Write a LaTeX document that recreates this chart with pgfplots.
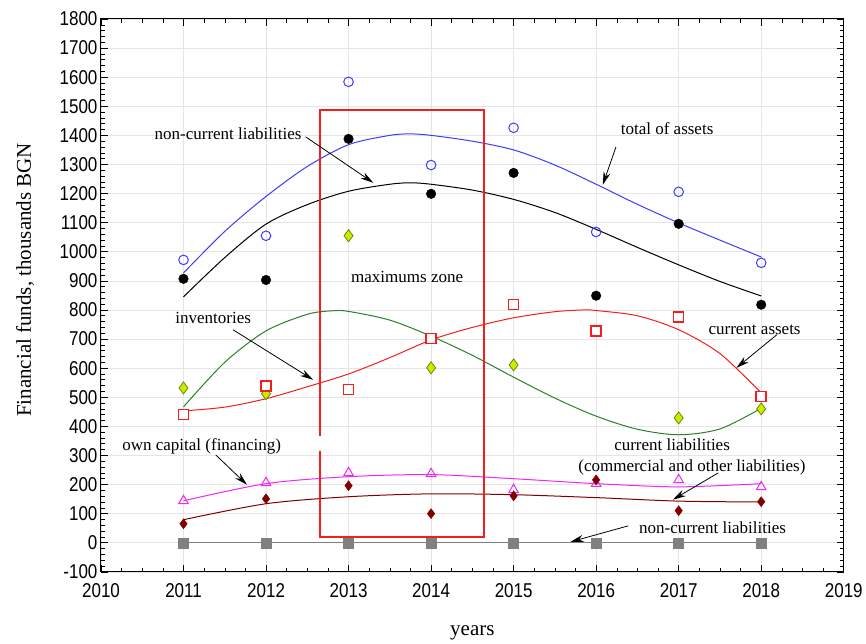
\documentclass[border=0pt]{standalone}
\usepackage{fontspec}
\setmainfont{Liberation Serif}
\newfontfamily\ticksf[FakeStretch=0.85]{Liberation Sans}
\usepackage{pgfplots}
\pgfplotsset{compat=1.18}
\usetikzlibrary{arrows.meta}
\definecolor{cblue}{RGB}{60,60,250}
\definecolor{cgreen}{RGB}{40,130,40}
\definecolor{cdiam}{RGB}{205,235,0}
\definecolor{cdiamedge}{RGB}{100,140,0}
\definecolor{cred}{RGB}{245,30,30}
\definecolor{cmag}{RGB}{240,40,240}
\definecolor{cdred}{RGB}{128,0,0}
\definecolor{cgray}{RGB}{128,128,128}
\begin{document}
\begin{tikzpicture}
\begin{axis}[
  scale only axis, width=743pt, height=553pt,
  xmin=2010, xmax=2019, ymin=-100, ymax=1800,
  xtick distance=1, ytick distance=100,
  minor x tick num=3, minor y tick num=4,
  xtick pos=both, ytick pos=both,
  xticklabel pos=left, yticklabel pos=left,
  tick align=inside,
  major tick length=7pt, minor tick length=4pt,
  tick style={black, line width=0.6pt},
  axis line style={black, line width=1pt},
  grid=major, major grid style={color=black!10, line width=0.6pt},
  /pgf/number format/1000 sep={},
  /pgf/number format/assume math mode=true,
  ticklabel style={font=\ticksf\fontsize{20}{20}\selectfont},
  xticklabel style={yshift=-8pt},
  xlabel={years},
  ylabel={Financial funds, thousands BGN},
  xlabel style={font=\fontsize{21}{21}\selectfont, at={(axis description cs:0.5,0)}, anchor=north, yshift=-50pt},
  ylabel style={font=\fontsize{21}{21}\selectfont, at={(axis description cs:-0.1023,0.528)}, anchor=center},
]
% fitted curves
\addplot[cblue, line width=1pt, smooth] coordinates {
 (2011,927) (2011.5,1070) (2012,1190) (2012.5,1293) (2013,1368) (2013.5,1400) (2013.75,1405) (2014,1400) (2014.5,1380) (2015,1350) (2015.5,1298) (2016,1232) (2016.5,1163) (2017,1099) (2017.5,1040) (2018,982)};
\addplot[black, line width=1pt, smooth] coordinates {
 (2011,845) (2011.5,980) (2012,1095) (2012.5,1162) (2013,1208) (2013.5,1232) (2013.75,1237) (2014,1232) (2014.5,1212) (2015,1180) (2015.5,1135) (2016,1077) (2016.5,1015) (2017,955) (2017.5,898) (2018,848)};
\addplot[cgreen, line width=1pt, smooth] coordinates {
 (2011,467) (2011.5,620) (2012,728) (2012.5,785) (2012.8,797) (2013,795) (2013.5,765) (2014,710) (2014.5,644) (2015,569) (2015.5,497) (2016,435) (2016.5,390) (2017,371) (2017.5,391) (2018,462)};
\addplot[cred, line width=1pt, smooth] coordinates {
 (2011,453) (2011.5,466) (2012,495) (2012.5,536) (2013,580) (2013.5,636) (2014,697) (2014.5,740) (2015,773) (2015.5,794) (2015.85,800) (2016,798) (2016.5,780) (2017,732) (2017.5,650) (2018,515)};
\addplot[cmag, line width=1pt, smooth] coordinates {
 (2011,144) (2012,203) (2013,227) (2014,234) (2015,220) (2016,203) (2017,192) (2018,203)};
\addplot[cdred, line width=1pt, smooth] coordinates {
 (2011,79) (2012,134) (2013,158) (2014,168) (2015,165) (2016,155) (2017,143) (2018,140)};
\addplot[cgray, line width=1pt] coordinates {(2011,0) (2018,0)};
% maximums zone
\draw[cred, line width=1.8pt] (axis cs:2012.65,316) -- (axis cs:2012.65,20) -- (axis cs:2014.64,20) -- (axis cs:2014.64,1487) -- (axis cs:2012.65,1487) -- (axis cs:2012.65,368);
% data points
\addplot[only marks, mark=o, mark size=4.8pt, mark options={draw=cblue, line width=1pt}] coordinates {
 (2011,972) (2012,1055) (2013,1584) (2014,1298) (2015,1426) (2016,1068) (2017,1206) (2018,962)};
\addplot[only marks, mark=*, mark size=4.8pt, mark options={draw=black, fill=black}] coordinates {
 (2011,907) (2012,903) (2013,1388) (2014,1199) (2015,1271) (2016,849) (2017,1096) (2018,818)};
\addplot[only marks, mark=diamond*, mark size=6pt, mark options={draw=cdiamedge, fill=cdiam, line width=0.8pt}] coordinates {
 (2011,532) (2012,512) (2013,1055) (2014,601) (2015,611) (2017,429) (2018,460)};
\addplot[only marks, mark=square*, mark size=5pt, mark options={draw=cred, fill=white, line width=1.4pt}] coordinates {
 (2011,440) (2012,539) (2013,526) (2014,701) (2015,818) (2016,728) (2017,776) (2018,502)};
\addplot[only marks, mark=triangle, mark size=5.5pt, mark options={draw=cmag, line width=1pt}] coordinates {
 (2011,144) (2012,206) (2013,240) (2014,237) (2015,182) (2016,203) (2017,216) (2018,192)};
\addplot[only marks, mark=diamond*, mark size=5pt, mark options={draw=cdred, fill=cdred}] coordinates {
 (2011,65) (2012,151) (2013,196) (2014,100) (2015,161) (2016,216) (2017,110) (2018,141)};
\addplot[only marks, mark=square*, mark size=5pt, mark options={draw=cgray, fill=cgray}] coordinates {
 (2011,0) (2012,0) (2013,0) (2014,0) (2015,0) (2016,0) (2017,0) (2018,0)};
% annotations
\tikzset{ann/.style={font=\fontsize{17}{17}\selectfont, inner sep=0pt},
  arr/.style={-{Stealth[length=13pt,width=7pt]}, line width=0.8pt, black}}
\node[ann] at (axis cs:2011.54,1405) {non-current liabilities};
\draw[arr] (axis cs:2012.48,1395) -- (axis cs:2013.30,1237);
\node[ann] at (axis cs:2016.86,1422) {total of assets};
\draw[arr] (axis cs:2016.24,1360) -- (axis cs:2016.08,1230);
\node[ann] at (axis cs:2013.71,914) {maximums zone};
\node[ann] at (axis cs:2011.36,773) {inventories};
\draw[arr] (axis cs:2011.60,732) -- (axis cs:2012.57,560);
\node[ann] at (axis cs:2017.92,732) {current assets};
\draw[arr] (axis cs:2018.19,715) -- (axis cs:2017.70,601);
\node[ann] at (axis cs:2011.22,330) {own capital (financing)};
\draw[arr] (axis cs:2011.39,302) -- (axis cs:2011.77,199);
\node[ann] at (axis cs:2016.92,337) {current liabilities};
\node[ann] at (axis cs:2017.16,258) {(commercial and other liabilities)};
\draw[arr] (axis cs:2017.48,240) -- (axis cs:2016.93,148);
\node[ann] at (axis cs:2017.41,51) {non-current liabilities};
\draw[arr] (axis cs:2016.39,58) -- (axis cs:2015.69,3);
\end{axis}
\path (-101pt,-70pt) rectangle (765pt,572pt);
\end{tikzpicture}
\end{document}
